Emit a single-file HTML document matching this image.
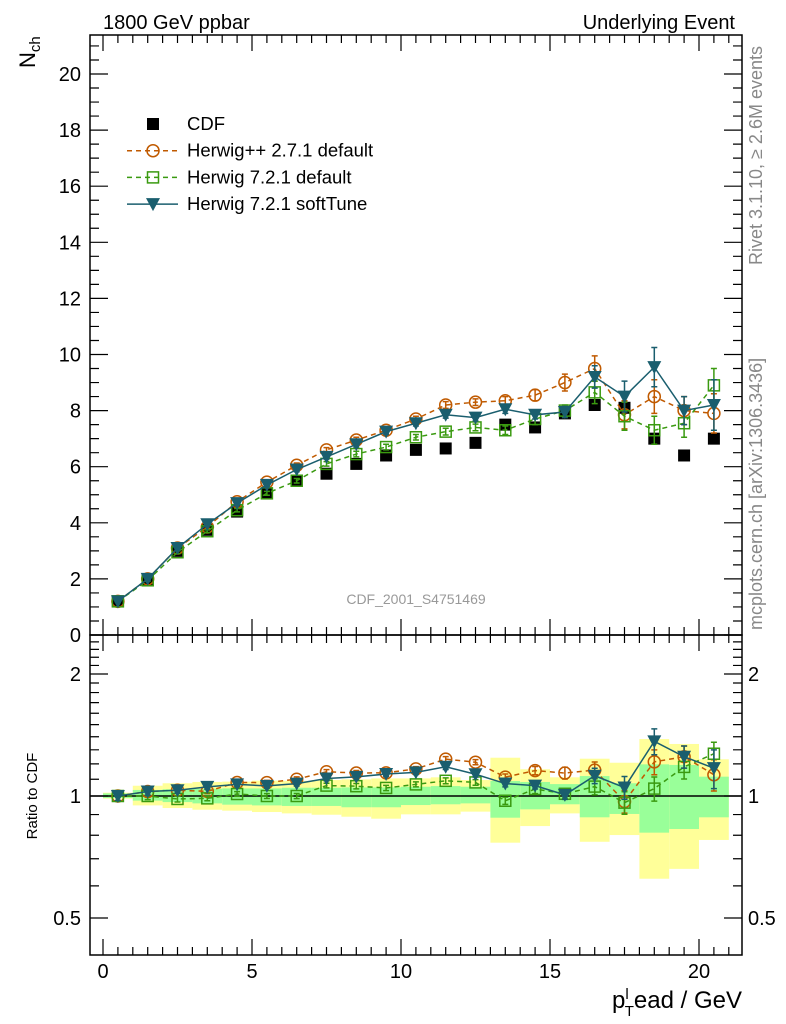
<!DOCTYPE html>
<html><head><meta charset="utf-8">
<style>
html,body{margin:0;padding:0;background:#fff;}
svg{display:block;font-family:"Liberation Sans",Arial,sans-serif;}
</style></head>
<body>
<svg id="chart" width="786" height="1024" viewBox="0 0 786 1024" xmlns="http://www.w3.org/2000/svg">
<g id="bands"></g>
<g id="marks"></g>
<g id="axes"></g>
<text x="103" y="29" font-size="20">1800 GeV ppbar</text>
<text x="735" y="29" font-size="20" text-anchor="end">Underlying Event</text>
<text transform="translate(35,68) rotate(-90)" font-size="22">N<tspan font-size="15" dy="5">ch</tspan></text>
<text transform="translate(762,265) rotate(-90)" font-size="18" fill="#888">Rivet 3.1.10, ≥ 2.6M events</text>
<text transform="translate(762,630) rotate(-90)" font-size="18" fill="#888">mcplots.cern.ch [arXiv:1306.3436]</text>
<text x="416" y="604" font-size="14" fill="#999" text-anchor="middle">CDF_2001_S4751469</text>
<text transform="translate(37,796) rotate(-90)" font-size="15" text-anchor="middle">Ratio to CDF</text>
<text x="742" y="1008" font-size="24" text-anchor="end">p<tspan font-size="15" dy="-9">l</tspan><tspan font-size="15" dx="-4" dy="17">T</tspan><tspan dy="-8">ead / GeV</tspan></text>
<g id="legend"></g>
</svg>
<script>
const xVals=[0.5,1.5,2.5,3.5,4.5,5.5,6.5,7.5,8.5,9.5,10.5,11.5,12.5,13.5,14.5,15.5,16.5,17.5,18.5,19.5,20.5];
const cdf=[1.2,1.95,3.0,3.75,4.4,5.05,5.5,5.75,6.1,6.4,6.6,6.65,6.85,7.5,7.4,7.9,8.2,8.1,7.0,6.4,7.0];
const hwpp=[1.2,2.0,3.1,3.85,4.75,5.45,6.05,6.6,6.95,7.3,7.7,8.2,8.3,8.35,8.55,9.0,9.5,7.85,8.5,8.0,7.9];
const hwppErr=[0.03,0.04,0.05,0.05,0.06,0.07,0.08,0.08,0.1,0.1,0.1,0.12,0.12,0.15,0.2,0.3,0.45,0.5,0.6,0.5,0.7];
const hw7=[1.2,1.95,2.95,3.7,4.45,5.05,5.5,6.1,6.45,6.7,7.05,7.25,7.4,7.3,7.7,8.0,8.65,7.8,7.3,7.55,8.9];
const hw7Err=[0.03,0.04,0.05,0.05,0.06,0.07,0.08,0.08,0.1,0.1,0.1,0.12,0.12,0.15,0.2,0.2,0.4,0.5,0.5,0.5,0.6];
const soft=[1.2,2.0,3.1,3.95,4.7,5.35,5.9,6.35,6.8,7.25,7.55,7.85,7.75,8.05,7.85,7.95,9.2,8.5,9.55,8.0,8.2];
const softErr=[0.03,0.04,0.05,0.05,0.06,0.07,0.08,0.08,0.1,0.1,0.1,0.12,0.12,0.15,0.15,0.2,0.4,0.55,0.7,0.5,0.9];
const yelHi=[1.019,1.06,1.075,1.083,1.085,1.091,1.09,1.095,1.099,1.105,1.105,1.112,1.095,1.243,1.164,1.112,1.236,1.208,1.382,1.344,1.232];
const yelLo=[0.985,0.948,0.934,0.925,0.92,0.913,0.906,0.899,0.889,0.879,0.901,0.901,0.915,0.767,0.843,0.906,0.771,0.801,0.625,0.661,0.779];
const grnHi=[1.015,1.035,1.039,1.042,1.044,1.044,1.048,1.048,1.05,1.05,1.054,1.058,1.054,1.089,1.083,1.07,1.12,1.075,1.197,1.193,1.116];
const grnLo=[0.989,0.974,0.966,0.959,0.952,0.948,0.945,0.945,0.938,0.938,0.95,0.954,0.959,0.884,0.927,0.954,0.886,0.903,0.812,0.829,0.886];
const mainTicks=[0,2,4,6,8,10,12,14,16,18,20];
const xTicks=[0,5,10,15,20];
const ratioTicks=[0.5,1,2];

const NS="http://www.w3.org/2000/svg";
const L=90,R=742,T=35,MB=635,RB=955;
const X=v=>103+29.8*v;
const Y=v=>635-28.05*v;
const RY=r=>796-122*Math.log2(r);
function mk(parent,tag,attrs){const e=document.createElementNS(NS,tag);for(const k in attrs)e.setAttribute(k,attrs[k]);parent.appendChild(e);return e;}
const gB=document.getElementById('bands'),gM=document.getElementById('marks'),gA=document.getElementById('axes'),gL=document.getElementById('legend');

xVals.forEach((v,i)=>{
  let e=mk(gB,'rect',{x:X(v-0.5),y:RY(yelHi[i]),width:29.8,height:RY(yelLo[i])-RY(yelHi[i]),fill:'#ffff99'});
  
  
  e=mk(gB,'rect',{x:X(v-0.5),y:RY(grnHi[i]),width:29.8,height:RY(grnLo[i])-RY(grnHi[i]),fill:'#99ff99'});
  
  
});
let ln=mk(gB,'line',{x1:L,x2:R,y1:RY(1),y2:RY(1),stroke:'#000','stroke-width':1.5});



function marker(g,type,cx,cy,col){
  let e;
  if(type==='sq') e=mk(g,'rect',{x:cx-6,y:cy-6,width:12,height:12,fill:'#000'});
  else if(type==='circ') e=mk(g,'circle',{cx:cx,cy:cy,r:6,fill:'none',stroke:col,'stroke-width':1.5});
  else if(type==='osq') e=mk(g,'rect',{x:cx-5.5,y:cy-5.5,width:11,height:11,fill:'none',stroke:col,'stroke-width':1.5});
  else e=mk(g,'path',{d:`M${cx-7},${cy-6}L${cx+7},${cy-6}L${cx},${cy+7}Z`,fill:col});
  return e;
}
function series(vals,errs,col,type,dash,name,ratio){
  const g=mk(gM,'g',{});
  
  
  const yf=ratio?(i)=>RY(vals[i]/cdf[i]):(i)=>Y(vals[i]);
  if(col){
    const pts=xVals.map((v,i)=>X(v)+','+yf(i)).join(' ');
    const p=mk(g,'polyline',{points:pts,fill:'none',stroke:col,'stroke-width':1.5,'stroke-dasharray':dash||'none'});
    
    
  }
  xVals.forEach((v,i)=>{
    if(errs){
      const hi=ratio?RY((vals[i]+errs[i])/cdf[i]):Y(vals[i]+errs[i]);
      const lo=ratio?RY((vals[i]-errs[i])/cdf[i]):Y(vals[i]-errs[i]);
      const eb=mk(g,'path',{d:`M${X(v)},${hi}L${X(v)},${lo}M${X(v)-3},${hi}L${X(v)+3},${hi}M${X(v)-3},${lo}L${X(v)+3},${lo}`,stroke:col,'stroke-width':1.5});
      
      
    }
    const m=marker(g,type,X(v),yf(i),col);
    
    
  });
}
const cO='#c05a00',cG='#3a9a10',cS='#1a5e6e';
series(cdf,null,null,'sq',null,'cdf-data',false);
series(hwpp,hwppErr,cO,'circ','5,4','herwigpp-271',false);
series(hw7,hw7Err,cG,'osq','5,4','herwig-721-default',false);
series(soft,softErr,cS,'tri',null,'herwig-721-softtune',false);
series(hwpp,hwppErr,cO,'circ','5,4','herwigpp-271',true);
series(hw7,hw7Err,cG,'osq','5,4','herwig-721-default',true);
series(soft,softErr,cS,'tri',null,'herwig-721-softtune',true);

[[T,MB],[MB,RB]].forEach((f,k)=>{
  const r=mk(gA,'rect',{x:L,y:f[0],width:R-L,height:f[1]-f[0],fill:'none',stroke:'#000','stroke-width':1.5});
  
  
});
let d='';
for(let v=0;v<=21;v+=0.5){
  const x=X(v);const big=(v%5===0);const len=big?16:8;
  d+=`M${x},${T}L${x},${T+len}M${x},${MB}L${x},${MB-len}M${x},${MB}L${x},${MB+len}M${x},${RB}L${x},${RB-len}`;
}
for(let v=0;v<=21.3;v+=0.5){
  const y=Y(v);const big=(v%2===0);const len=big?18:9;
  d+=`M${L},${y}L${L+len},${y}M${R},${y}L${R-len},${y}`;
}
for(let r=0.5;r<=2.45;r+=0.1){
  const rr=Math.round(r*10)/10;const y=RY(rr);
  if(y<MB||y>RB)continue;
  const big=(rr===0.5||rr===1||rr===2);const len=big?18:9;
  d+=`M${L},${y}L${L+len},${y}M${R},${y}L${R-len},${y}`;
}
const tk=mk(gA,'path',{d:d,stroke:'#000','stroke-width':1.2,fill:'none'});


mainTicks.forEach(v=>{
  const t=mk(gA,'text',{x:81,y:Y(v)+7,'font-size':20,'text-anchor':'end'});t.textContent=v;
  
  
});
xTicks.forEach(v=>{
  const t=mk(gA,'text',{x:X(v),y:978,'font-size':20,'text-anchor':'middle'});t.textContent=v;
  
  
});
ratioTicks.forEach(v=>{
  let t=mk(gA,'text',{x:81,y:RY(v)+7,'font-size':20,'text-anchor':'end'});t.textContent=v;
  
  
  t=mk(gA,'text',{x:748,y:RY(v)+7,'font-size':20});t.textContent=v;
  
  
});

const legNames=['CDF','Herwig++ 2.7.1 default','Herwig 7.2.1 default','Herwig 7.2.1 softTune'];
const legCols=[null,cO,cG,cS],legTypes=['sq','circ','osq','tri'],legDash=[null,'5,4','5,4',null];
legNames.forEach((n,i)=>{
  const y=124+26.7*i;
  const g=mk(gL,'g',{});
  
  
  if(legCols[i]) mk(g,'line',{x1:127,x2:178,y1:y,y2:y,stroke:legCols[i],'stroke-width':1.5,'stroke-dasharray':legDash[i]||'none'});
  marker(g,legTypes[i],153,y,legCols[i]);
  const t=mk(g,'text',{x:187,y:y+6,'font-size':18.5});t.textContent=n;
});
</script>
</body></html>
